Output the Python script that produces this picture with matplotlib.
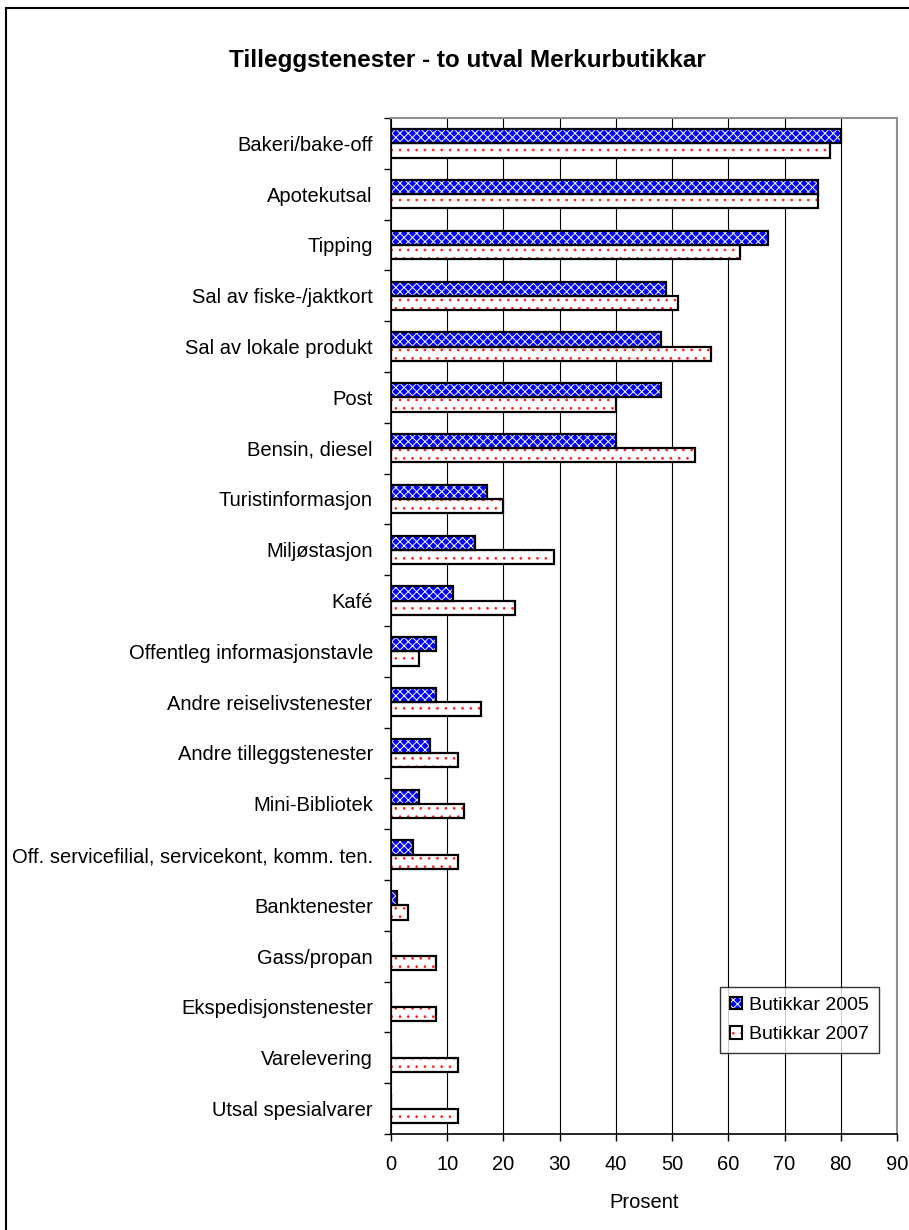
import matplotlib
matplotlib.use("Agg")
import matplotlib.pyplot as plt
import numpy as np
from matplotlib.patches import Patch, Rectangle
from matplotlib.legend_handler import HandlerTuple

plt.rcParams['font.family'] = ['Liberation Sans', 'DejaVu Sans']
plt.rcParams['hatch.linewidth'] = 0.7

categories = [
    "Bakeri/bake-off", "Apotekutsal", "Tipping", "Sal av fiske-/jaktkort",
    "Sal av lokale produkt", "Post", "Bensin, diesel", "Turistinformasjon",
    "Miljøstasjon", "Kafé", "Offentleg informasjonstavle",
    "Andre reiselivstenester", "Andre tilleggstenester", "Mini-Bibliotek",
    "Off. servicefilial, servicekont, komm. ten.", "Banktenester",
    "Gass/propan", "Ekspedisjonstenester", "Varelevering", "Utsal spesialvarer",
]
butikkar_2005 = [80, 76, 67, 49, 48, 48, 40, 17, 15, 11, 8, 8, 7, 5, 4, 1, 0, 0, 0, 0]
butikkar_2007 = [78, 76, 62, 51, 57, 40, 54, 20, 29, 22, 5, 16, 12, 13, 12, 3, 8, 8, 12, 12]
series_names = ["Butikkar 2005", "Butikkar 2007"]
xticks = [0, 10, 20, 30, 40, 50, 60, 70, 80, 90]

W, H = 909, 1230
fig = plt.figure(figsize=(W / 100, H / 100), dpi=100)
ax = fig.add_axes([391 / W, 1 - 1134 / H, (897 - 391) / W, (1134 - 118) / H])

y = np.arange(len(categories))
h = 0.28
blue = "#0000FF"
red = "#ff2020"

# 2005 series (upper bar in each group)
ax.barh(y - h / 2, butikkar_2005, height=h, color=blue, edgecolor="white",
        linewidth=0, hatch="xxxx", zorder=3)
ax.barh(y - h / 2, butikkar_2005, height=h, fill=False, edgecolor="black",
        linewidth=1.6, zorder=4)
# 2007 series (lower bar)
ax.barh(y + h / 2, butikkar_2007, height=h, color="white", edgecolor=red,
        linewidth=0, hatch="..", zorder=3)
ax.barh(y + h / 2, butikkar_2007, height=h, fill=False, edgecolor="black",
        linewidth=1.6, zorder=4)

ax.set_xlim(0, 90)
ax.set_ylim(len(categories) - 0.5, -0.5)
ax.set_xticks(xticks)
ax.set_xticklabels([str(t) for t in xticks], fontsize=14.5)
ax.set_yticks(y)
ax.set_yticklabels(categories, fontsize=14.5)
ax.set_yticks(np.arange(len(categories) + 1) - 0.5, minor=True)
ax.tick_params(axis="y", which="major", length=0, pad=13)
ax.tick_params(axis="y", which="minor", length=5, width=1.0, direction="out")
ax.tick_params(axis="x", which="major", length=5, width=1.0, direction="out", pad=10)

ax.grid(axis="x", color="black", linewidth=0.8, zorder=1)
ax.set_axisbelow(True)
for s in ["top", "right"]:
    ax.spines[s].set_color("#909090")
    ax.spines[s].set_linewidth(1.5)
for s in ["left", "bottom"]:
    ax.spines[s].set_color("black")
    ax.spines[s].set_linewidth(1.2)

ax.set_xlabel("Prosent", fontsize=14.5, labelpad=14)

fig.text(467 / W, 1 - 60 / H, "Tilleggstenester - to utval Merkurbutikkar",
         ha="center", va="center", fontsize=17.5, fontweight="bold")

# legend
h1a = Patch(facecolor=blue, edgecolor="white", linewidth=0, hatch="xxxx")
h1b = Patch(fill=False, edgecolor="black", linewidth=1.5)
h2a = Patch(facecolor="white", edgecolor=red, linewidth=0, hatch="..")
h2b = Patch(fill=False, edgecolor="black", linewidth=1.5)
leg = ax.legend([(h1a, h1b), (h2a, h2b)], series_names,
                handler_map={tuple: HandlerTuple(ndivide=1, pad=0)},
                loc="lower right",
                bbox_to_anchor=((879 - 391) / (897 - 391), (1134 - 1053) / (1134 - 118)),
                fontsize=14, frameon=True, fancybox=False, shadow=False,
                handlelength=0.6, handleheight=0.6, handletextpad=0.4,
                labelspacing=0.65, borderpad=0.5, borderaxespad=0)
leg.get_frame().set_edgecolor("black")
leg.get_frame().set_linewidth(1.0)
leg.set_zorder(10)

# outer chart border
fig.add_artist(Rectangle((6 / W, -0.05), 1.1, 1 - 8 / H + 0.05, transform=fig.transFigure,
                         fill=False, edgecolor="black", linewidth=1.5))

fig.savefig("out.png", dpi=100)
